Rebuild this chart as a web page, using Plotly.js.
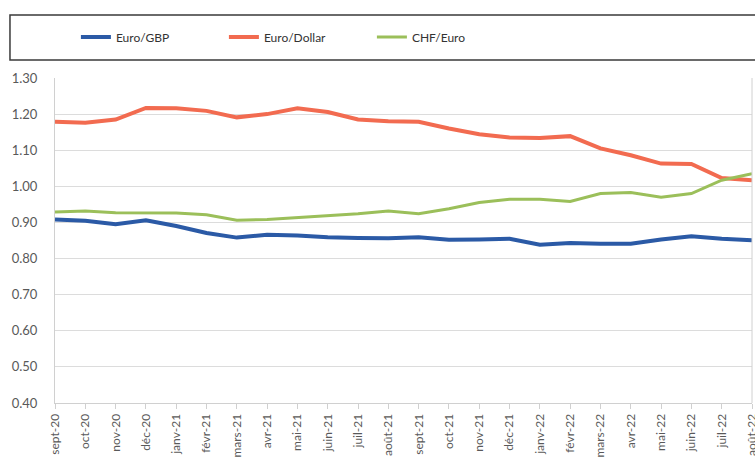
<!DOCTYPE html>
<html>
<head>
<meta charset="utf-8">
<script src="https://cdn.plot.ly/plotly-3.0.1.min.js"></script>
<style>html,body{margin:0;padding:0;background:#fff;}#chart{width:755px;height:459px;}</style>
</head>
<body>
<div id="chart"></div>
<script>
const months = ["sept-20","oct-20","nov-20","déc-20","janv-21","févr-21","mars-21","avr-21","mai-21","juin-21","juil-21","août-21","sept-21","oct-21","nov-21","déc-21","janv-22","févr-22","mars-22","avr-22","mai-22","juin-22","juil-22","août-22"];
const euroGBP = [0.908,0.905,0.895,0.906,0.890,0.871,0.858,0.866,0.864,0.859,0.857,0.856,0.859,0.852,0.853,0.855,0.838,0.843,0.841,0.841,0.853,0.862,0.855,0.851];
const euroDollar = [1.179,1.176,1.185,1.217,1.216,1.209,1.191,1.200,1.216,1.206,1.185,1.180,1.179,1.160,1.144,1.135,1.134,1.139,1.105,1.086,1.063,1.062,1.023,1.017];
const chfEuro = [0.929,0.932,0.927,0.926,0.926,0.921,0.906,0.908,0.913,0.918,0.924,0.932,0.924,0.938,0.955,0.964,0.964,0.958,0.980,0.983,0.970,0.980,1.017,1.035];
const yTicks = [0.4,0.5,0.6,0.7,0.8,0.9,1.0,1.1,1.2,1.3];

const traces = [
  {x: months, y: euroGBP, name: "Euro/GBP", type: "scatter", mode: "lines", line: {color: "#2B5AA6", width: 4}},
  {x: months, y: euroDollar, name: "Euro/Dollar", type: "scatter", mode: "lines", line: {color: "#F26B50", width: 4}},
  {x: months, y: chfEuro, name: "CHF/Euro", type: "scatter", mode: "lines", line: {color: "#9BBF5A", width: 3}}
];

const layout = {
  width: 755, height: 459,
  margin: {l: 55, r: 3, t: 78, b: 56},
  paper_bgcolor: "#fff", plot_bgcolor: "#fff",
  font: {family: "Lato, 'Open Sans', sans-serif", color: "#595959"},
  showlegend: true,
  legend: {
    orientation: "h", x: 0.03, y: 1.126, xanchor: "left", yanchor: "middle",
    itemwidth: 30, entrywidth: 103, entrywidthmode: "pixels",
    font: {size: 12, color: "#333"}, bgcolor: "rgba(0,0,0,0)"
  },
  xaxis: {
    type: "category", range: [0, 23], tickangle: -90,
    showgrid: false, showline: true, linecolor: "#d0d0d0", linewidth: 1,
    ticks: "outside", ticklen: 5, tickcolor: "#d0d0d0",
    tickfont: {size: 12, color: "#595959"}, fixedrange: true
  },
  yaxis: {
    range: [0.4, 1.3], tickvals: yTicks, tickformat: ".2f",
    showgrid: true, gridcolor: "#dcdcdc", gridwidth: 1,
    showline: true, linecolor: "#d0d0d0", linewidth: 1,
    zeroline: false, ticks: "", ticklabelstandoff: 14,
    tickfont: {size: 13, color: "#595959"}, fixedrange: true
  },
  shapes: [
    {type: "rect", xref: "paper", yref: "paper", x0: -0.0646, x1: 1.02, y0: 1.0554, y1: 1.1938,
     line: {color: "#3a3a3a", width: 1.5}, fillcolor: "rgba(0,0,0,0)"},
    {type: "line", xref: "paper", yref: "paper", x0: 1, x1: 1, y0: 0, y1: 1, line: {color: "#d0d0d0", width: 1}}
  ]
};

Plotly.newPlot("chart", traces, layout, {displayModeBar: false, staticPlot: true});
</script>
</body>
</html>
